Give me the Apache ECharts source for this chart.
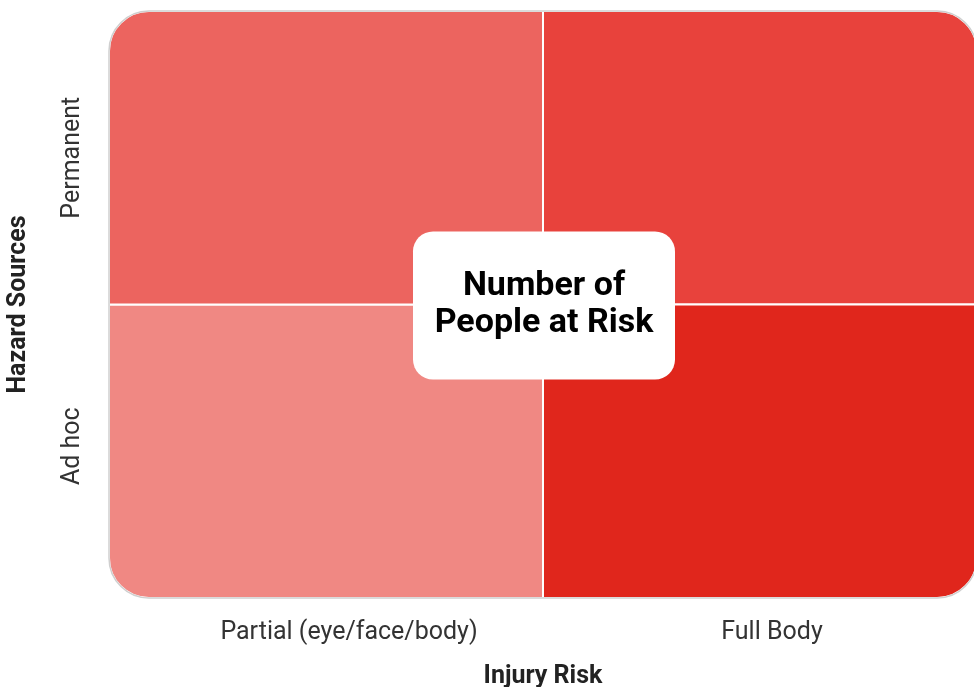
<!DOCTYPE html>
<html>
<head>
<meta charset="utf-8">
<script src="https://cdn.jsdelivr.net/npm/echarts@6/dist/echarts.min.js"></script>
<style>
  html, body { margin: 0; padding: 0; background: #fff; }
  #chart { width: 974px; height: 687px; }
</style>
</head>
<body>
<div id="chart"></div>
<script>
// categories
const injuryRisk = ["Partial (eye/face/body)", "Full Body"];
const hazardSources = ["Ad hoc", "Permanent"];
// [x index, y index, risk level]
const cells = [
  [0, 0, 1],
  [0, 1, 2],
  [1, 1, 3],
  [1, 0, 4]
];
const levelColors = ["#f08883", "#ec645f", "#e8423c", "#e0261c"];
const centerLabel = "Number of\nPeople at Risk";

const chart = echarts.init(document.getElementById("chart"));
const R = 40;

function cornerRadius(x, y) {
  // rect r: [tl, tr, br, bl]
  if (x === 0 && y === 1) return [R, 0, 0, 0];
  if (x === 1 && y === 1) return [0, R, 0, 0];
  if (x === 1 && y === 0) return [0, 0, R, 0];
  return [0, 0, 0, R];
}

const option = {
  animation: false,
  textStyle: { fontFamily: "Roboto" },
  grid: { left: 109, right: -3, top: 11, bottom: 89, outerBoundsMode: "none", containLabel: false },
  xAxis: {
    type: "category",
    data: injuryRisk,
    name: "Injury Risk",
    nameLocation: "middle",
    nameGap: 66,
    nameTextStyle: { fontSize: 25, fontWeight: "bold", color: "#222" },
    axisLine: { show: false },
    axisTick: { show: false },
    axisLabel: {
      fontSize: 25, color: "#333", margin: 22,
      // labels sit a little right of the cell centres in the original
      formatter: (v, i) => (i === 0 ? "{a|" + v + "}" : "{b|" + v + "}"),
      rich: {
        a: { fontSize: 25, color: "#333", padding: [0, 0, 0, 46] },
        b: { fontSize: 25, color: "#333", padding: [0, 0, 0, 24] }
      }
    },
    splitLine: { show: false }
  },
  yAxis: {
    type: "category",
    data: hazardSources,
    name: "Hazard Sources",
    nameLocation: "middle",
    nameRotate: 90,
    nameGap: 78,
    nameTextStyle: { fontSize: 25, fontWeight: "bold", color: "#222" },
    axisLine: { show: false },
    axisTick: { show: false },
    axisLabel: {
      fontSize: 25, color: "#333", rotate: 90, margin: 24,
      formatter: (v, i) => (i === 0 ? "{a|" + v + "}" : v),
      rich: {
        a: { fontSize: 25, color: "#333", padding: [0, 0, 0, 10] }
      }
    },
    splitLine: { show: false }
  },
  series: [
    {
      type: "custom",
      data: cells,
      renderItem: function (params, api) {
        const x = api.value(0), y = api.value(1);
        const c = api.coord([x, y]);
        const s = api.size([1, 1]);
        return {
          type: "rect",
          shape: {
            x: c[0] - s[0] / 2,
            y: c[1] - s[1] / 2,
            width: s[0],
            height: s[1],
            r: cornerRadius(x, y)
          },
          style: {
            fill: levelColors[api.value(2) - 1],
            stroke: "#fff",
            lineWidth: 2
          }
        };
      }
    },
    {
      type: "custom",
      data: [[0, 0]],
      z: 5,
      renderItem: function (params, api) {
        const a = api.coord([0, 0]);
        const b = api.coord([1, 1]);
        const s = api.size([1, 1]);
        const cx = (a[0] + b[0]) / 2;
        const cy = (a[1] + b[1]) / 2;
        const bw = 262, bh = 148;
        return {
          type: "group",
          children: [
            {
              type: "rect",
              shape: {
                x: cx - s[0], y: cy - s[1],
                width: s[0] * 2, height: s[1] * 2, r: R
              },
              style: { fill: null, stroke: "#cfcfcf", lineWidth: 1.5 }
            },
            {
              type: "rect",
              shape: { x: cx - bw / 2 + 1, y: cy - bh / 2 + 1, width: bw, height: bh, r: 20 },
              style: { fill: "#fff" }
            },
            {
              type: "text",
              x: cx + 1,
              y: cy,
              style: {
                text: centerLabel,
                fontFamily: "Roboto",
                fontSize: 34,
                fontWeight: "bold",
                lineHeight: 37,
                fill: "#000",
                align: "center",
                verticalAlign: "middle"
              }
            }
          ]
        };
      }
    }
  ]
};

chart.setOption(option);
</script>
</body>
</html>
